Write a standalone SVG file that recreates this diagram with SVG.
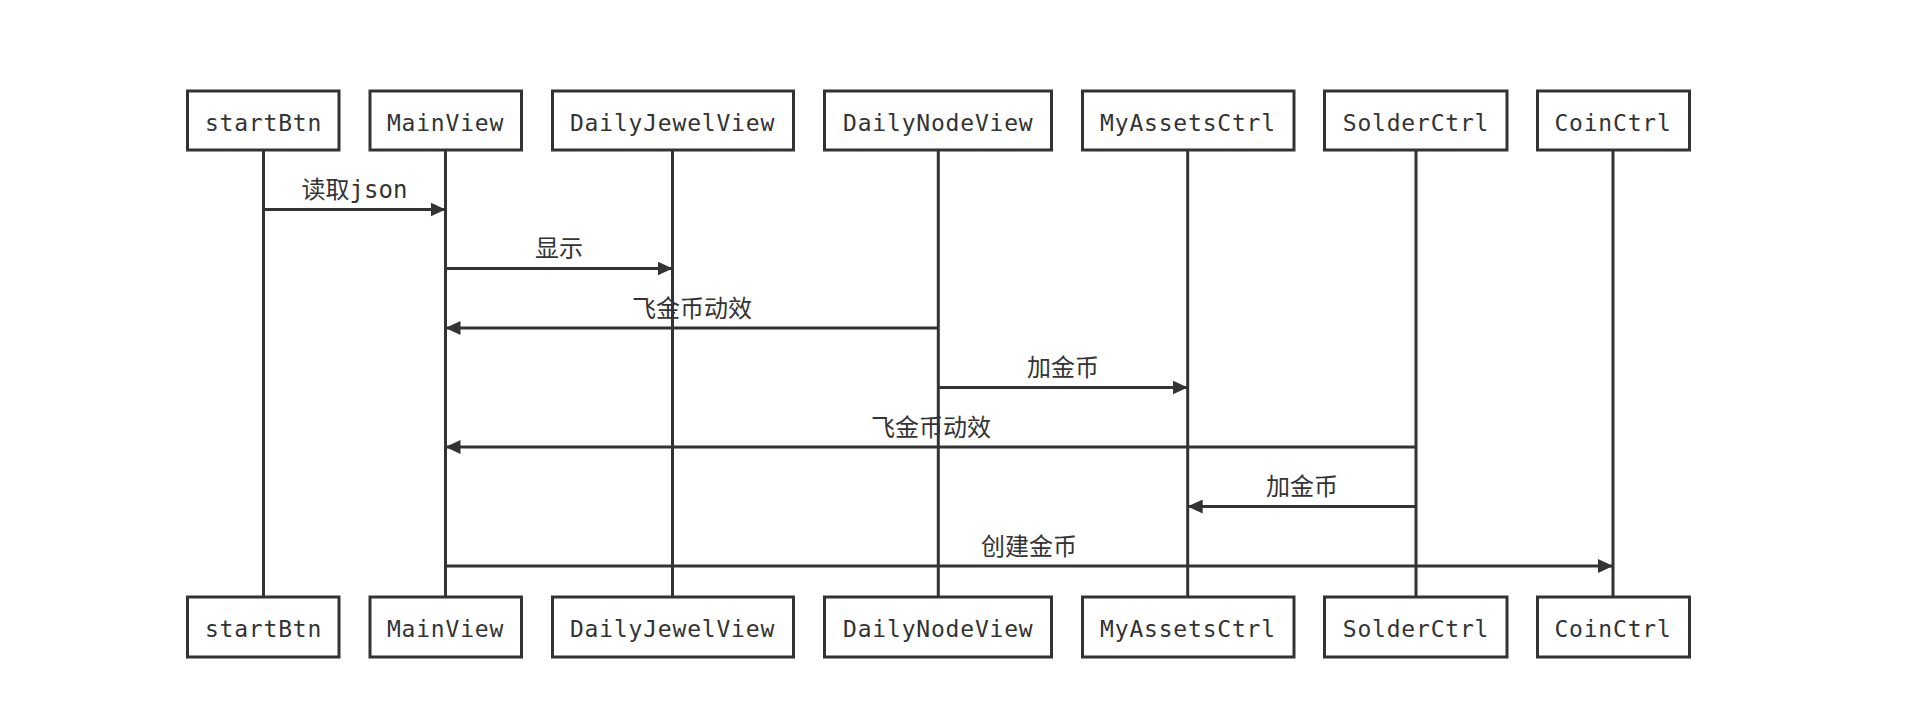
<svg xmlns="http://www.w3.org/2000/svg" width="1920" height="718" viewBox="0 0 1920 718">
<style>
.box{fill:#fff;stroke:#333;stroke-width:3}
.life{stroke:#333;stroke-width:3}
.msg{stroke:#333;stroke-width:3;fill:none}
.t{font-family:"DejaVu Sans Mono","Noto Sans CJK SC",monospace;font-size:23px;letter-spacing:0.8px;fill:#333;text-anchor:middle}
.l{font-family:"DejaVu Sans Mono","Noto Sans CJK SC",monospace;font-size:24px;fill:#333;text-anchor:middle}
</style>
<defs>
<marker id="ah" viewBox="0 0 15 14" refX="15" refY="7" markerWidth="15" markerHeight="14" markerUnits="userSpaceOnUse" orient="auto">
<path d="M0,0 L15,7 L0,14 Z" fill="#333"/>
</marker>
</defs>
<rect width="1920" height="718" fill="#fff"/>
<g id="lifelines">
<line class="life" x1="263.5" y1="150" x2="263.5" y2="597"/>
<line class="life" x1="445.5" y1="150" x2="445.5" y2="597"/>
<line class="life" x1="672.5" y1="150" x2="672.5" y2="597"/>
<line class="life" x1="938.3" y1="150" x2="938.3" y2="597"/>
<line class="life" x1="1187.7" y1="150" x2="1187.7" y2="597"/>
<line class="life" x1="1416" y1="150" x2="1416" y2="597"/>
<line class="life" x1="1613" y1="150" x2="1613" y2="597"/>
</g>
<g id="node-startBtn">
<rect class="box" x="187.5" y="91" width="151.5" height="59"/><text class="t" x="263.5" y="131">startBtn</text>
<rect class="box" x="187.5" y="597" width="151.5" height="60"/><text class="t" x="263.5" y="637">startBtn</text>
</g>
<g id="node-MainView">
<rect class="box" x="370" y="91" width="151.5" height="59"/><text class="t" x="445.5" y="131">MainView</text>
<rect class="box" x="370" y="597" width="151.5" height="60"/><text class="t" x="445.5" y="637">MainView</text>
</g>
<g id="node-DailyJewelView">
<rect class="box" x="552.5" y="91" width="241" height="59"/><text class="t" x="672.5" y="131">DailyJewelView</text>
<rect class="box" x="552.5" y="597" width="241" height="60"/><text class="t" x="672.5" y="637">DailyJewelView</text>
</g>
<g id="node-DailyNodeView">
<rect class="box" x="824.5" y="91" width="227" height="59"/><text class="t" x="938.3" y="131">DailyNodeView</text>
<rect class="box" x="824.5" y="597" width="227" height="60"/><text class="t" x="938.3" y="637">DailyNodeView</text>
</g>
<g id="node-MyAssetsCtrl">
<rect class="box" x="1082.5" y="91" width="211.5" height="59"/><text class="t" x="1188" y="131">MyAssetsCtrl</text>
<rect class="box" x="1082.5" y="597" width="211.5" height="60"/><text class="t" x="1188" y="637">MyAssetsCtrl</text>
</g>
<g id="node-SolderCtrl">
<rect class="box" x="1324.5" y="91" width="182.5" height="59"/><text class="t" x="1416" y="131">SolderCtrl</text>
<rect class="box" x="1324.5" y="597" width="182.5" height="60"/><text class="t" x="1416" y="637">SolderCtrl</text>
</g>
<g id="node-CoinCtrl">
<rect class="box" x="1537.5" y="91" width="152" height="59"/><text class="t" x="1613" y="131">CoinCtrl</text>
<rect class="box" x="1537.5" y="597" width="152" height="60"/><text class="t" x="1613" y="637">CoinCtrl</text>
</g>
<g id="connectors">
<line class="msg" x1="263.5" y1="209.5" x2="445.5" y2="209.5" marker-end="url(#ah)"/>
<text class="l" x="354.5" y="198">读取json</text>
<line class="msg" x1="445.5" y1="268.5" x2="672.5" y2="268.5" marker-end="url(#ah)"/>
<text class="l" x="559" y="257">显示</text>
<line class="msg" x1="938.3" y1="328" x2="445.5" y2="328" marker-end="url(#ah)"/>
<text class="l" x="692" y="317">飞金币动效</text>
<line class="msg" x1="938.3" y1="387.5" x2="1187.7" y2="387.5" marker-end="url(#ah)"/>
<text class="l" x="1063" y="376">加金币</text>
<line class="msg" x1="1416" y1="447" x2="445.5" y2="447" marker-end="url(#ah)"/>
<text class="l" x="931" y="436">飞金币动效</text>
<line class="msg" x1="1416" y1="506.5" x2="1187.7" y2="506.5" marker-end="url(#ah)"/>
<text class="l" x="1302" y="495">加金币</text>
<line class="msg" x1="445.5" y1="566" x2="1613" y2="566" marker-end="url(#ah)"/>
<text class="l" x="1029" y="555">创建金币</text>
</g>
</svg>
